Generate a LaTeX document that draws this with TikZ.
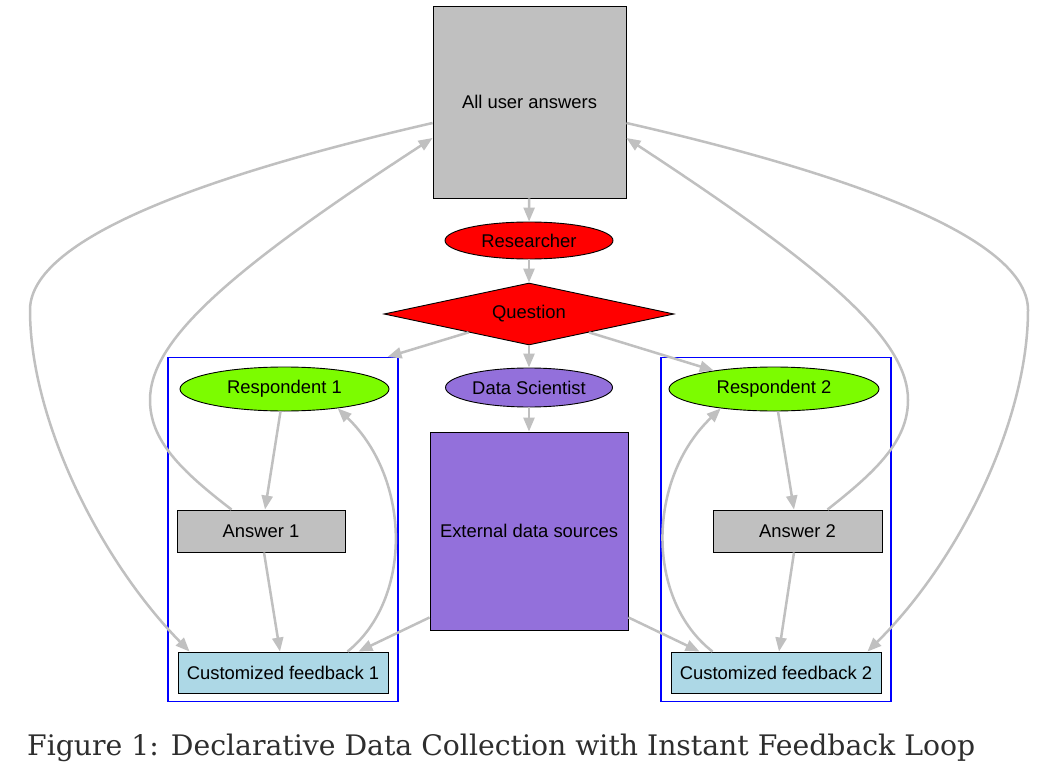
\documentclass[tikz,border=0pt]{standalone}
\usepackage{fontspec}
\setmainfont{Liberation Sans}
\newfontfamily\capfont{DejaVu Serif}
\usetikzlibrary{shapes.geometric,arrows.meta}
\definecolor{edgegray}{HTML}{C0C0C0}
\definecolor{boxgray}{HTML}{C0C0C0}
\definecolor{mpurple}{HTML}{9370DB}
\definecolor{lgreen}{HTML}{7CFC00}
\definecolor{lblue}{HTML}{ADD8E6}
\definecolor{captxt}{HTML}{2E2E2E}
\tikzset{
  base/.style={draw=black, line width=0.9pt, inner sep=0pt, font=\fontsize{18.4}{22}\selectfont},
  graybox/.style={base, rectangle, fill=boxgray},
  redell/.style={base, ellipse, fill=red},
  purpell/.style={base, ellipse, fill=mpurple},
  greenell/.style={base, ellipse, fill=lgreen},
  fbbox/.style={base, rectangle, fill=lblue},
  cluster/.style={draw=blue, line width=1.1pt, rectangle, inner sep=0pt},
  edge/.style={draw=edgegray, line width=2.5pt, -{Triangle[length=14pt,width=11pt]}},
}
\begin{document}
\begin{tikzpicture}[x=1pt,y=-1pt]
\useasboundingbox[fill=white] (0,0) rectangle (1039,765);
% clusters
\node[cluster, minimum width=230pt, minimum height=344pt] (c1) at (283,529.5) {};
\node[cluster, minimum width=230pt, minimum height=344pt] (c2) at (776,529.5) {};
% nodes
\node[graybox, minimum width=193pt, minimum height=192pt] (aua) at (529.5,102) {All user answers};
\node[redell, minimum width=168pt, minimum height=37pt] (res) at (529,240.5) {Researcher};
\node[base, diamond, fill=red, aspect=4.68, minimum width=290pt, minimum height=62pt] (q) at (529,314) {Question};
\node[purpell, minimum width=167pt, minimum height=39pt] (ds) at (529,387.5) {Data Scientist};
\node[base, rectangle, fill=mpurple, minimum width=198pt, minimum height=198pt] (ext) at (529,531) {External data sources};
\node[greenell, minimum width=209pt, minimum height=44pt] (r1) at (284.5,389) {Respondent 1};
\node[graybox, minimum width=168pt, minimum height=42pt] (a1) at (261,531) {Answer 1};
\node[fbbox, minimum width=210pt, minimum height=41pt] (cf1) at (283,672.5) {Customized feedback 1};
\node[greenell, minimum width=210pt, minimum height=44pt] (r2) at (774,389) {Respondent 2};
\node[graybox, minimum width=169pt, minimum height=42pt] (a2) at (797.5,531) {Answer 2};
\node[fbbox, minimum width=210pt, minimum height=41pt] (cf2) at (776,672.5) {Customized feedback 2};
% edges
\draw[edge] (aua) -- (res);
\draw[edge] (res) -- (q);
\draw[edge] (q) -- (ds);
\draw[edge] (ds) -- (ext);
\draw[edge] (q) -- ([xshift=-11pt]c1.north east);
\draw[edge] (q) -- (r2.163);
\draw[edge] ([xshift=-4pt]r1.south) -- ([xshift=4pt]a1.north);
\draw[edge] ([xshift=3pt]a1.south) -- ([xshift=-3pt]cf1.north);
\draw[edge] ([xshift=4pt]r2.south) -- ([xshift=-3.5pt]a2.north);
\draw[edge] ([xshift=-3.5pt]a2.south) -- ([xshift=3pt]cf2.north);
\draw[edge] ([xshift=-41pt]cf1.north east) .. controls (412,600) and (412,480) .. (r1.-20);
\draw[edge] ([xshift=42pt]cf2.north west) .. controls (646,600) and (646,480) .. (r2.200);
\draw[edge] ([yshift=13pt]ext.south west) -- ([xshift=-30pt]cf1.north east);
\draw[edge] ([yshift=13pt]ext.south east) -- ([xshift=29pt]cf2.north west);
\draw[edge] ([xshift=55pt]a1.north west) .. controls (180,470) and (150,440) .. (150,400)
   .. controls (150,340) and (230,270) .. ([yshift=-36pt]aua.west);
\draw[edge] ([xshift=-55pt]a2.north east) .. controls (878,470) and (908,440) .. (908,400)
   .. controls (908,340) and (828,270) .. ([yshift=-36pt]aua.east);
\draw[edge] ([yshift=-21pt]aua.west) .. controls (250,165) and (30,230) .. (30,310)
   .. controls (30,420) and (100,560) .. ([xshift=12pt]cf1.north west);
\draw[edge] ([yshift=-21pt]aua.east) .. controls (810,165) and (1028,230) .. (1028,310)
   .. controls (1028,420) and (960,560) .. ([xshift=-14pt]cf2.north east);
% caption
\node[anchor=base west, inner sep=0pt, text=captxt] (cap) at (27,755)
  {\resizebox{948pt}{!}{\capfont\fontsize{28}{34}\selectfont Figure 1: Declarative Data Collection with Instant Feedback Loop}};
\end{tikzpicture}
\end{document}
